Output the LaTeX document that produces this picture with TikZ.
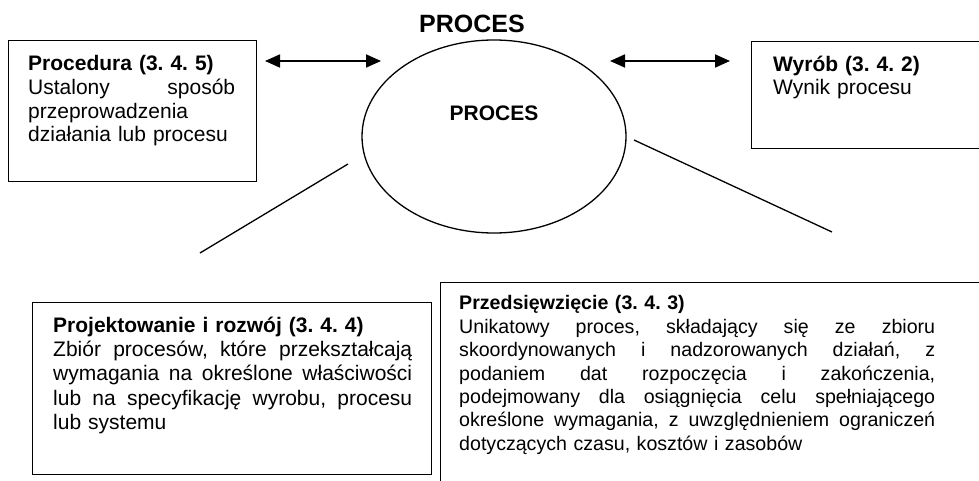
\documentclass[tikz,border=0pt]{standalone}
\usepackage{fontspec}
\setmainfont{Liberation Sans}
\usetikzlibrary{shapes.geometric,arrows.meta}
\frenchspacing
% a full-width line whose word spaces stretch
\newcommand{\jrow}[1]{\makebox[\hsize][s]{\spaceskip=0pt\xspaceskip=0pt #1}}
\begin{document}
\begin{tikzpicture}[x=1pt,y=-1pt,
  frame/.style={draw=black,line width=1.4pt,inner sep=0pt,anchor=north west},
  body/.style={inner sep=0pt,anchor=north west,align=left,font=\fontsize{21}{#1}\selectfont},
  body/.default=24,
  smallbody/.style={inner sep=0pt,anchor=north west,align=left,font=\fontsize{19.6}{#1}\selectfont},
  link/.style={line width=1.3pt},
  both/.style={line width=1.8pt,{Triangle[length=15pt,width=13pt]}-{Triangle[length=15pt,width=13pt]}}]
\useasboundingbox (0,0) rectangle (979,481);
\clip (0,0) rectangle (979,481);

% heading and the central ellipse
\node[anchor=base,inner sep=0pt,font=\fontsize{25}{28}\selectfont\bfseries] (title) at (472,33) {PROCES};
\node[draw,ellipse,line width=1.3pt,minimum width=264pt,minimum height=193pt,inner sep=0pt] (proces) at (494,136.5) {};
\node[anchor=base,inner sep=0pt,font=\fontsize{21}{24}\selectfont\bfseries] (proceslabel) at (494,121) {PROCES};

% frames
\node[frame,minimum width=248pt,minimum height=141pt] (procbox) at (8,40) {};
\node[frame,minimum width=260pt,minimum height=107pt] (wyrobbox) at (751,41) {};
\node[frame,minimum width=399pt,minimum height=172pt] (projbox) at (32,302) {};
\node[frame,minimum width=560pt,minimum height=220pt] (przedbox) at (440,282) {};

% texts
\node[body=23.6,text width=207pt] (proctext) at (28,55.5) {%
  \textbf{Procedura (3. 4. 5)}\\
  \jrow{Ustalony sposób}\\
  przeprowadzenia\\
  działania lub procesu};
\node[body=23.6,text width=190pt] (wyrobtext) at (773,55.5) {%
  \textbf{Wyrób (3. 4. 2)}\\
  Wynik procesu};
\node[body=24.3,text width=359pt] (projtext) at (53,316.5) {%
  \textbf{Projektowanie i rozwój (3. 4. 4)}\\
  \jrow{Zbiór procesów, które przekształcają}\\
  \jrow{wymagania na określone właściwości}\\
  \jrow{lub na specyfikację wyrobu, procesu}\\
  lub systemu};
\node[smallbody=23.4,text width=476pt] (przedtext) at (459,295.5) {%
  \textbf{Przedsięwzięcie (3. 4. 3)}\\
  \jrow{Unikatowy proces, składający się ze zbioru}\\
  \jrow{skoordynowanych i nadzorowanych działań, z}\\
  \jrow{podaniem dat rozpoczęcia i zakończenia,}\\
  \jrow{podejmowany dla osiągnięcia celu spełniającego}\\
  \jrow{określone wymagania, z uwzględnieniem ograniczeń}\\
  dotyczących czasu, kosztów i zasobów};

% arrow and line end points
\coordinate (la) at (265,61);
\coordinate (lb) at (381,61);
\coordinate (ra) at (610,61);
\coordinate (rb) at (730,61);
\coordinate (l1) at (348,164);
\coordinate (l2) at (200,253);
\coordinate (r1) at (634,140);
\coordinate (r2) at (832,232);

\draw[both] (la) -- (lb);
\draw[both] (ra) -- (rb);
\draw[link] (l1) -- (l2);
\draw[link] (r1) -- (r2);
\end{tikzpicture}
\end{document}
